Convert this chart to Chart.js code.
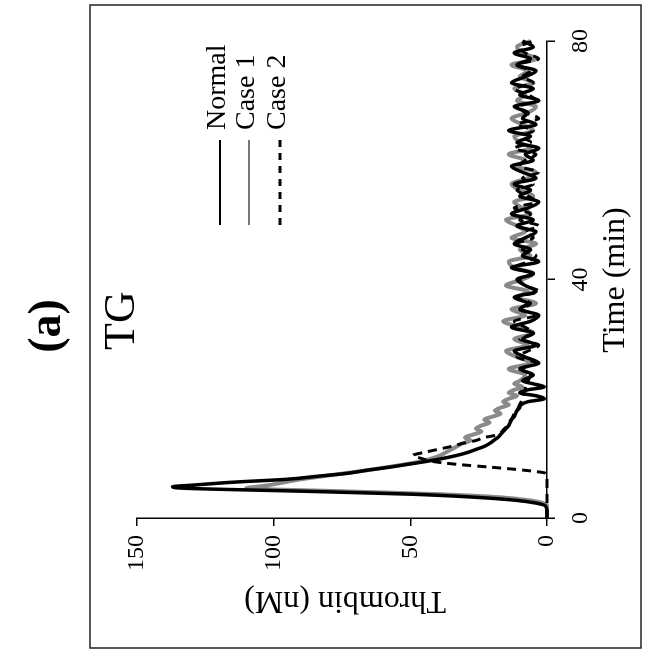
<!DOCTYPE html>
<html>
<head>
<meta charset="utf-8">
<script src="https://cdn.jsdelivr.net/npm/chart.js@4.4.1/dist/chart.umd.min.js"></script>
<style>
  html, body { margin: 0; padding: 0; background: #fff; overflow: hidden; }
  /* the figure is printed turned a quarter turn, so the chart is drawn upright and rotated */
  #wrap {
    position: absolute; left: 0; top: 0;
    width: 657px; height: 646px;
    transform-origin: 0 0;
    transform: translateY(657px) rotate(-90deg);
  }
</style>
</head>
<body>
<div id="wrap"><canvas id="tgChart" width="657" height="646"></canvas></div>
<script>
// Time points (min)
const times = [0, 1, 2, 2.5, 3, 3.5, 4, 4.5, 5, 5.25,
    5.5, 6, 6.5, 7, 7.5, 8, 8.5, 9, 9.5, 10, 10.5, 11, 11.5, 12, 12.5, 13, 13.5, 14, 14.5, 15,
    15.5, 16, 16.5, 17, 17.5, 18, 18.5, 19, 19.5, 20, 20.5, 21, 21.5, 22, 22.5, 23,
    24, 25, 26, 27, 28, 29, 30, 31, 32, 33, 34, 35, 36, 37, 38, 39, 40, 41, 42, 43,
    44, 45, 46, 47, 48, 49, 50, 51, 52, 53, 54, 55, 56, 57, 58, 59, 60, 61, 62, 63,
    64, 65, 66, 67, 68, 69, 70, 71, 72, 73, 74, 75, 76, 77, 78, 79, 80];

// Thrombin (nM)
const normal = [0, 0, 0.5, 4, 12, 27, 50, 90, 133, 137,
    130, 115, 95, 84, 73, 66, 58, 51, 44, 38, 33, 29, 26, 23, 21, 19.5, 18, 17, 16, 15,
    14, 13.5, 13, 12, 11.5, 11, 10, 9.5, 7, 1, 4, 10, 7, 1, 5, 9,
    5, 10, 3, 8, 12, 4, 9, 5, 13, 6, 3, 10, 7, 12, 4, 8, 11, 5, 13, 3,
    9, 6, 12, 8, 4, 11, 5, 13, 7, 3, 10, 6, 12, 4, 9, 13, 5, 8, 3, 11,
    6, 14, 4, 9, 7, 12, 3, 10, 5, 13, 8, 4, 11, 6, 12, 5, 9];

const case1 = [0, 0, 0, 1.5, 7, 18, 40, 76, 110, 106,
    102, 96, 90, 82, 74, 66, 59, 52, 46, 42, 39, 37, 35, 33, 31, 28, 30, 27, 24, 26,
    24, 21, 23, 20, 17, 19, 17, 14, 16, 14, 11, 14, 12, 9, 12, 10,
    8, 14, 6, 11, 15, 7, 12, 5, 10, 16, 8, 13, 4, 11, 7, 15, 9, 5, 12, 14,
    6, 10, 4, 13, 8, 11, 15, 6, 9, 12, 5, 10, 13, 7, 4, 11, 8, 14, 6, 10,
    12, 5, 9, 13, 7, 4, 11, 8, 12, 5, 10, 7, 13, 4, 9, 11, 6];

const case2 = [0, 0, 0, 0, 0, 0, 0, 0, 0, 0,
    0, 0, 0, 0, 0.5, 8, 20, 33, 42, 46, 49, 45, 40, 35, 31, 26, 23, 17.5, 16.5, 15.5,
    14.5, 14, 13, 12.5, 12, 11, 10.5, 10, 9.5, 9, 8.5, 8.5, 8, 8, 7.5, 7,
    6, 9, 4, 11, 7, 3, 10, 5, 8, 12, 4, 9, 6, 11, 3, 8, 10, 5, 12, 7,
    4, 9, 11, 5, 8, 3, 10, 6, 12, 4, 7, 11, 5, 9, 3, 10, 8, 4, 12, 6,
    9, 5, 11, 3, 8, 10, 4, 7, 12, 5, 9, 6, 11, 3, 8, 10, 5];

const timeTicks = [0, 40, 80];
const thrombinTicks = [0, 50, 100, 150];

const seriesNames = ['Normal', 'Case 1', 'Case 2'];

const serif = '"Liberation Serif", "Times New Roman", serif';

function toPoints(values) {
    return times.map((t, i) => ({ x: t, y: values[i] }));
}

// frame, panel letter, axis titles and legend
const decor = {
    id: 'decor',
    afterDraw(chart) {
        const ctx = chart.ctx;
        ctx.save();
        ctx.strokeStyle = '#222';
        ctx.lineWidth = 1.5;
        ctx.strokeRect(9, 90, 643, 551);

        ctx.fillStyle = '#000';
        ctx.textAlign = 'center';
        ctx.textBaseline = 'middle';
        ctx.font = 'bold 46px ' + serif;
        ctx.fillText('(a)', 331, 48);

        ctx.textAlign = 'left';
        ctx.textBaseline = 'alphabetic';
        ctx.font = '44px ' + serif;
        ctx.fillText('TG', 307, 134);

        ctx.font = '32px ' + serif;
        ctx.textAlign = 'center';
        ctx.textBaseline = 'middle';
        ctx.fillText('Time (min)', 377, 616);

        ctx.save();
        ctx.translate(57, 345);
        ctx.rotate(-Math.PI / 2);
        ctx.fillText('Thrombin (nM)', 0, 0);
        ctx.restore();

        // legend
        const rows = [220, 249, 280];
        const styles = [
            { color: '#000', width: 2, dash: [] },
            { color: '#777', width: 2, dash: [] },
            { color: '#000', width: 3, dash: [7, 6] }
        ];
        ctx.font = '28px ' + serif;
        ctx.textAlign = 'left';
        rows.forEach((y, i) => {
            ctx.beginPath();
            ctx.strokeStyle = styles[i].color;
            ctx.lineWidth = styles[i].width;
            ctx.setLineDash(styles[i].dash);
            ctx.moveTo(432, y);
            ctx.lineTo(517, y);
            ctx.stroke();
            ctx.setLineDash([]);
            ctx.fillText(seriesNames[i], 527, y - 2);
        });
        ctx.restore();
    }
};

const ctx = document.getElementById('tgChart').getContext('2d');
new Chart(ctx, {
    type: 'line',
    data: {
        datasets: [
            {
                label: seriesNames[0],
                data: toPoints(normal),
                borderColor: '#000',
                borderWidth: 3.5
            },
            {
                label: seriesNames[2],
                data: toPoints(case2),
                borderColor: '#000',
                borderWidth: 3,
                borderDash: [9, 6]
            },
            {
                label: seriesNames[1],
                data: toPoints(case1),
                borderColor: '#8a8a8a',
                borderWidth: 4
            }
        ]
    },
    options: {
        responsive: false,
        animation: false,
        devicePixelRatio: 1,
        layout: {
            padding: { top: 137, right: 41, bottom: 0, left: 0 }
        },
        elements: {
            point: { radius: 0 },
            line: { cubicInterpolationMode: 'monotone', fill: false }
        },
        datasets: {
            line: { clip: false }
        },
        plugins: {
            legend: { display: false },
            title: { display: false },
            tooltip: { enabled: false }
        },
        scales: {
            x: {
                type: 'linear',
                min: 0,
                max: 80,
                afterFit: (scale) => { scale.height = 99; },
                afterBuildTicks: (scale) => { scale.ticks = timeTicks.map(v => ({ value: v })); },
                grid: { drawOnChartArea: false, tickLength: 8, color: '#000', lineWidth: 1.5 },
                border: { color: '#000', width: 1.5 },
                ticks: {
                    color: '#000',
                    padding: 11,
                    maxRotation: 0,
                    font: { family: serif, size: 24 }
                }
            },
            y: {
                min: 0,
                max: 150,
                afterFit: (scale) => { scale.width = 139; },
                afterBuildTicks: (scale) => { scale.ticks = thrombinTicks.map(v => ({ value: v })); },
                grid: { drawOnChartArea: false, tickLength: 8, color: '#000', lineWidth: 1.5 },
                border: { color: '#000', width: 1.5 },
                ticks: {
                    color: '#000',
                    padding: 9,
                    font: { family: serif, size: 24 }
                }
            }
        }
    },
    plugins: [decor]
});
</script>
</body>
</html>
